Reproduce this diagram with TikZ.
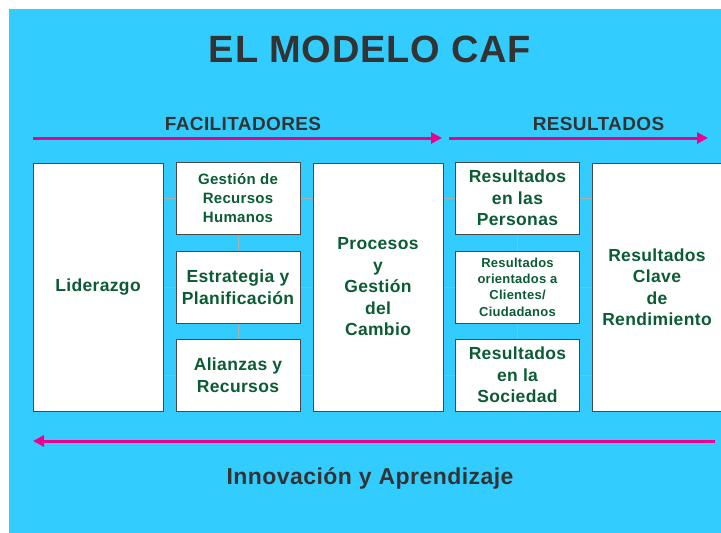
\documentclass[tikz,border=0pt]{standalone}
\usepackage{fontspec}
\setmainfont{Liberation Sans}[LetterSpace=2]
\usepackage{xcolor}
\usetikzlibrary{arrows.meta}

\definecolor{cafblue}{HTML}{33CCFF}
\definecolor{cafgreen}{HTML}{0B5C34}
\definecolor{cafgray}{HTML}{333333}
\definecolor{caflink}{HTML}{9DB5B5}

\begin{document}
\begin{tikzpicture}[x=1pt,y=-1pt,
  box/.style={draw=black!72,line width=1pt,fill=white,text=cafgreen,align=center,inner sep=0pt,
    font=\fontsize{17.5}{21.5}\selectfont\bfseries},
  tall/.style={box,minimum width=130pt,minimum height=248pt},
  small/.style={box,minimum width=124pt,minimum height=72pt},
  link/.style={draw=caflink,line width=0.8pt},
  flow/.style={draw=magenta,line width=3pt,-{Triangle[length=11pt,width=11pt]}},
  head/.style={text=cafgray,anchor=base,font=\fontsize{19}{22}\selectfont\bfseries}]
\useasboundingbox (0,0) rectangle (721,533);
\fill[cafblue] (9,9) rectangle (721,533);

% titles
\node[head,font=\fontsize{38}{44}\selectfont\bfseries] (tit) at (370,62) {EL MODELO CAF};
\node[head] (fac) at (243,130) {FACILITADORES};
\node[head] (res) at (598.5,130) {RESULTADOS};
\node[head,font=\fontsize{23}{26}\selectfont\bfseries] (inn) at (370,484) {Innovación y Aprendizaje};

% criteria
\node[tall] (lid) at (98,287) {Liderazgo};
\node[small,font=\fontsize{15}{19}\selectfont\bfseries] (rrhh) at (238,198) {Gestión de\\Recursos\\Humanos};
\node[small] (estr) at (238,287) {Estrategia y\\Planificación};
\node[small] (alia) at (238,375) {Alianzas y\\Recursos};
\node[tall] (proc) at (378,287) {Procesos\\y\\Gestión\\del\\Cambio};
\node[small] (pers) at (517.5,198) {Resultados\\en las\\Personas};
\node[small,font=\fontsize{13}{16.3}\selectfont\bfseries] (clie) at (517.5,287) {Resultados\\orientados a\\Clientes/\\Ciudadanos};
\node[small] (soci) at (517.5,375) {Resultados\\en la\\Sociedad};
\node[tall] (clav) at (657,287) {Resultados\\Clave\\de\\Rendimiento};

% thin links
\foreach \b in {rrhh,estr,alia}
  \draw[link] (\b.west) -- (\b.west -| lid.east) (\b.east) -- (\b.east -| proc.west);
\foreach \b in {pers,clie,soci}
  \draw[link] (\b.west) -- (\b.west -| proc.east) (\b.east) -- (\b.east -| clav.west);
\draw[link] (rrhh) -- (estr) (estr) -- (alia);
\draw[link] (pers) -- (clie) (clie) -- (soci);

% arrows
\coordinate (fa) at (33,138);
\coordinate (fb) at (442,138);
\coordinate (ra) at (449,138);
\coordinate (rb) at (708,138);
\coordinate (ia) at (715,441);
\coordinate (ib) at (33,441);
\draw[flow] (fa) -- (fb);
\draw[flow] (ra) -- (rb);
\draw[flow] (ia) -- (ib);
\end{tikzpicture}
\end{document}
